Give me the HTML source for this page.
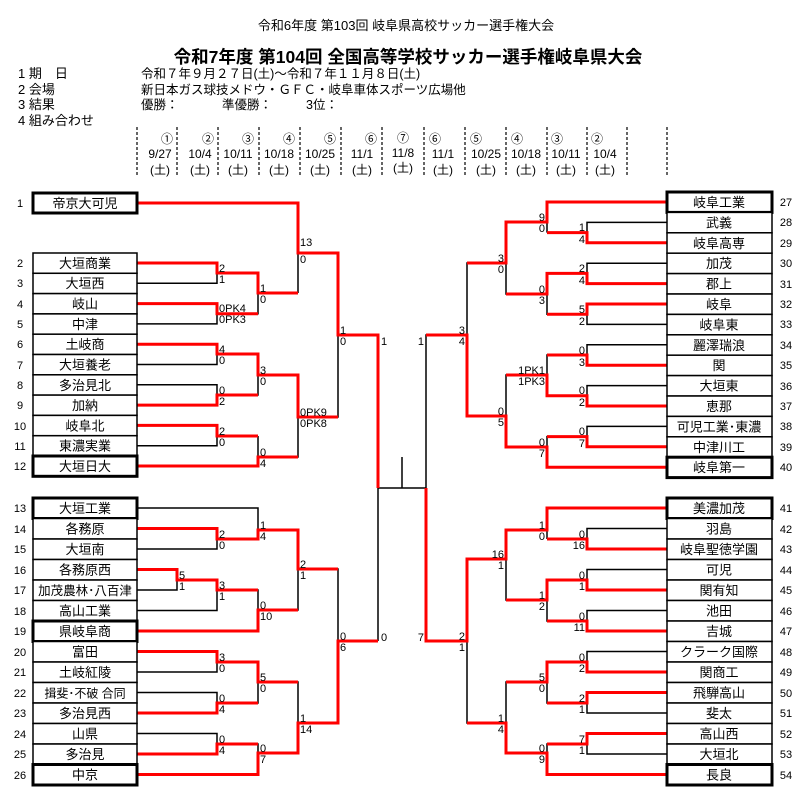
<!DOCTYPE html>
<html><head><meta charset="utf-8"><style>
html,body{margin:0;padding:0;background:#fff;}
svg{display:block;font-family:"Liberation Sans","Noto Sans CJK JP",sans-serif;}
.n{font-size:13px;text-anchor:middle;}
.s{font-size:11px;}
.e{text-anchor:end;}
.b{fill:none;stroke:#000;stroke-width:1.5;}
.r{fill:none;stroke:#f00;stroke-width:3;}
.bx{fill:#fff;stroke:#000;stroke-width:1.5;}
.tb{fill:#fff;stroke:#000;stroke-width:3;}
.h{font-size:13px;}
</style></head><body>
<svg width="809" height="803" viewBox="0 0 809 803" xmlns="http://www.w3.org/2000/svg">
<text x="406" y="30" font-size="13" text-anchor="middle">令和6年度  第103回  岐阜県高校サッカー選手権大会</text>
<text x="408" y="63" font-size="17.5" font-weight="bold" text-anchor="middle">令和7年度 第104回 全国高等学校サッカー選手権岐阜県大会</text>
<g class="h">
<text x="18" y="78">1 期　日</text><text x="141" y="78" font-size="12.5">令和７年９月２７日(土)～令和７年１１月８日(土)</text>
<text x="18" y="94">2 会場</text><text x="141" y="94" font-size="12.5">新日本ガス球技メドウ・ＧＦＣ・岐阜車体スポーツ広場他</text>
<text x="18" y="109">3 結果</text><text x="141" y="109" font-size="12.5">優勝：</text><text x="222" y="109" font-size="12.5">準優勝：</text><text x="306" y="109" font-size="12.5">3位：</text>
<text x="18" y="125">4 組み合わせ</text>
</g>
<g stroke="#000" stroke-width="1.2" stroke-dasharray="3,2">
<line x1="137" y1="127" x2="137" y2="176"/><line x1="177" y1="127" x2="177" y2="176"/><line x1="218" y1="127" x2="218" y2="176"/><line x1="259" y1="127" x2="259" y2="176"/><line x1="300" y1="127" x2="300" y2="176"/><line x1="341" y1="127" x2="341" y2="176"/><line x1="382" y1="127" x2="382" y2="176"/><line x1="424" y1="127" x2="424" y2="176"/><line x1="465" y1="127" x2="465" y2="176"/><line x1="506" y1="127" x2="506" y2="176"/><line x1="547" y1="127" x2="547" y2="176"/><line x1="587" y1="127" x2="587" y2="176"/><line x1="627" y1="127" x2="627" y2="176"/><line x1="667" y1="127" x2="667" y2="176"/>
</g>
<g font-size="12" text-anchor="middle">
<text x="167" y="143">①</text><text x="160" y="158">9/27</text><text x="160" y="174">(土)</text>
<text x="208" y="143">②</text><text x="200" y="158">10/4</text><text x="200" y="174">(土)</text>
<text x="248" y="143">③</text><text x="238" y="158">10/11</text><text x="238" y="174">(土)</text>
<text x="289" y="143">④</text><text x="279" y="158">10/18</text><text x="279" y="174">(土)</text>
<text x="330" y="143">⑤</text><text x="320" y="158">10/25</text><text x="320" y="174">(土)</text>
<text x="371" y="143">⑥</text><text x="362" y="158">11/1</text><text x="362" y="174">(土)</text>
<text x="403" y="142">⑦</text><text x="403" y="157">11/8</text><text x="403" y="172">(土)</text>
<text x="435" y="143">⑥</text><text x="443" y="158">11/1</text><text x="443" y="174">(土)</text>
<text x="476" y="143">⑤</text><text x="486" y="158">10/25</text><text x="486" y="174">(土)</text>
<text x="517" y="143">④</text><text x="526" y="158">10/18</text><text x="526" y="174">(土)</text>
<text x="557" y="143">③</text><text x="566" y="158">10/11</text><text x="566" y="174">(土)</text>
<text x="597" y="143">②</text><text x="605" y="158">10/4</text><text x="605" y="174">(土)</text>
</g>

<path class="b" d="M137 203H298V293 M137 263H217V283.3H137 M137 303.6H217V323.9H137 M137 344.2H217V364.5H137 M137 384.8H217V405.1H137 M137 425.4H217V445.7H137 M137 466H258V436 M217 273H258V313.8H217 M217 354H258V395H217 M217 436H258 M258 293H298 M258 375H298V457H258 M298 253H338V417H298 M338 335H378V641"/>
<path class="b" d="M137 508H258V539 M137 528.5H217V549H137 M137 569.5H177V590H137 M177 580H217V610.5H137 M137 631H258V590H217 M217 539H258 M258 530H298V610H258 M137 651.5H217V672H137 M137 692.5H217V713H137 M217 662H258V703H217 M137 733.5H217V754H137 M217 744H258V774.5H137 M258 682H298V753H258 M298 569H338V723H298 M338 641H378"/>
<path class="b" d="M378 488H426 M402 457V488"/>
<path class="b" d="M667 202H547V232.6 M667 222.4H587V242.8H667 M667 263.2H587V283.6H667 M667 304H587V324.4H667 M587 232.6H547 M587 273.4H547V314.2H587 M547 222H506V294H547 M506 263H467V416H506 M467 335H426V641 M667 344.8H587V365.2H667 M667 385.6H587V406H667 M587 355H547V395.8H587 M547 375H506V447H547 M667 426.4H587V446.8H667 M587 436.6H547V467.2H667"/>
<path class="b" d="M667 508H547V539 M667 528.5H587V549H667 M587 539H547 M667 569.5H587V590H667 M667 610.5H587V631H667 M587 580H547V621H587 M547 530H506V600H547 M506 559H467V723H506 M667 651.5H587V672H667 M667 692.5H587V713H667 M587 662H547V703H587 M547 682H506V753H547 M667 733.5H587V754H667 M587 744H547V774.5H667"/>

<g class="r">
<path d="M137 203H298V253H338V335H378V488"/>
<path d="M137 263H217V273H258V293H298"/>
<path d="M137 303.6H217V313.8H258"/>
<path d="M137 344.2H217V354H258V375H298V417H338"/>
<path d="M137 405.1H217V395H258"/>
<path d="M137 425.4H217V436H258"/>
<path d="M137 466H258V457H298"/>
<path d="M137 528.5H217V539H258V530H298V569H338"/>
<path d="M137 569.5H177V580H217V590H258"/>
<path d="M137 631H258V610H298"/>
<path d="M137 651.5H217V662H258V682H298"/>
<path d="M137 713H217V703H258"/>
<path d="M137 754H217V744H258"/>
<path d="M137 774.5H258V753H298V723H338V641H378"/>
<path d="M667 202H547V222H506V263H467"/>
<path d="M667 242.8H587V232.6H547"/>
<path d="M667 283.6H587V273.4H547V294H506"/>
<path d="M667 304H587V314.2H547"/>
<path d="M667 365.2H587V355H547"/>
<path d="M667 406H587V395.8H547V375H506"/>
<path d="M667 446.8H587V436.6H547"/>
<path d="M667 467.2H547V447H506V416H467V335H426"/>
<path d="M667 508H547V530H506V559H467V641H426V488"/>
<path d="M667 549H587V539H547"/>
<path d="M667 590H587V580H547V600H506"/>
<path d="M667 631H587V621H547"/>
<path d="M667 672H587V662H547V682H506"/>
<path d="M667 692.5H587V703H547"/>
<path d="M667 733.5H587V744H547"/>
<path d="M667 774.5H547V753H506V723H467"/>
</g>

<g>
<rect class="tb" x="33" y="193" width="104" height="20"/>
<rect class="bx" x="33" y="253" width="104" height="20.3"/><rect class="bx" x="33" y="273.3" width="104" height="20.3"/><rect class="bx" x="33" y="293.6" width="104" height="20.3"/><rect class="bx" x="33" y="313.9" width="104" height="20.3"/><rect class="bx" x="33" y="334.2" width="104" height="20.3"/><rect class="bx" x="33" y="354.5" width="104" height="20.3"/><rect class="bx" x="33" y="374.8" width="104" height="20.3"/><rect class="bx" x="33" y="395.1" width="104" height="20.3"/><rect class="bx" x="33" y="415.4" width="104" height="20.3"/><rect class="bx" x="33" y="435.7" width="104" height="20.3"/><rect class="tb" x="33" y="456" width="104" height="20.3"/>
<rect class="tb" x="33" y="498" width="104" height="20.5"/><rect class="bx" x="33" y="518.5" width="104" height="20.5"/><rect class="bx" x="33" y="539" width="104" height="20.5"/><rect class="bx" x="33" y="559.5" width="104" height="20.5"/><rect class="bx" x="33" y="580" width="104" height="20.5"/><rect class="bx" x="33" y="600.5" width="104" height="20.5"/><rect class="tb" x="33" y="621" width="104" height="20.5"/><rect class="bx" x="33" y="641.5" width="104" height="20.5"/><rect class="bx" x="33" y="662" width="104" height="20.5"/><rect class="bx" x="33" y="682.5" width="104" height="20.5"/><rect class="bx" x="33" y="703" width="104" height="20.5"/><rect class="bx" x="33" y="723.5" width="104" height="20.5"/><rect class="bx" x="33" y="744" width="104" height="20.5"/><rect class="tb" x="33" y="764.5" width="104" height="20.5"/>
</g>
<g>
<rect class="tb" x="667" y="192" width="105" height="20.4"/><rect class="bx" x="667" y="212.4" width="105" height="20.4"/><rect class="bx" x="667" y="232.8" width="105" height="20.4"/><rect class="bx" x="667" y="253.2" width="105" height="20.4"/><rect class="bx" x="667" y="273.6" width="105" height="20.4"/><rect class="bx" x="667" y="294" width="105" height="20.4"/><rect class="bx" x="667" y="314.4" width="105" height="20.4"/><rect class="bx" x="667" y="334.8" width="105" height="20.4"/><rect class="bx" x="667" y="355.2" width="105" height="20.4"/><rect class="bx" x="667" y="375.6" width="105" height="20.4"/><rect class="bx" x="667" y="396" width="105" height="20.4"/><rect class="bx" x="667" y="416.4" width="105" height="20.4"/><rect class="bx" x="667" y="436.8" width="105" height="20.4"/><rect class="tb" x="667" y="457.2" width="105" height="20.4"/>
<rect class="tb" x="667" y="498" width="105" height="20.5"/><rect class="bx" x="667" y="518.5" width="105" height="20.5"/><rect class="bx" x="667" y="539" width="105" height="20.5"/><rect class="bx" x="667" y="559.5" width="105" height="20.5"/><rect class="bx" x="667" y="580" width="105" height="20.5"/><rect class="bx" x="667" y="600.5" width="105" height="20.5"/><rect class="bx" x="667" y="621" width="105" height="20.5"/><rect class="bx" x="667" y="641.5" width="105" height="20.5"/><rect class="bx" x="667" y="662" width="105" height="20.5"/><rect class="bx" x="667" y="682.5" width="105" height="20.5"/><rect class="bx" x="667" y="703" width="105" height="20.5"/><rect class="bx" x="667" y="723.5" width="105" height="20.5"/><rect class="bx" x="667" y="744" width="105" height="20.5"/><rect class="tb" x="667" y="764.5" width="105" height="20.5"/>
</g>

<g class="n">
<text x="85" y="208">帝京大可児</text>
<text x="85" y="268">大垣商業</text><text x="85" y="288">大垣西</text><text x="85" y="308.5">岐山</text><text x="85" y="329">中津</text><text x="85" y="349">土岐商</text><text x="85" y="369.5">大垣養老</text><text x="85" y="390">多治見北</text><text x="85" y="410">加納</text><text x="85" y="430.5">岐阜北</text><text x="85" y="450.5">東濃実業</text><text x="85" y="471">大垣日大</text>
<text x="85" y="513">大垣工業</text><text x="85" y="533.5">各務原</text><text x="85" y="554">大垣南</text><text x="85" y="574.5">各務原西</text><text x="85" y="595" font-size="12.5">加茂農林･八百津</text><text x="85" y="615.5">高山工業</text><text x="85" y="636">県岐阜商</text><text x="85" y="656.5">富田</text><text x="85" y="677">土岐紅陵</text><text x="85" y="697.5" font-size="12">揖斐･不破  合同</text><text x="85" y="718">多治見西</text><text x="85" y="738.5">山県</text><text x="85" y="759">多治見</text><text x="85" y="779.5">中京</text>
</g>
<g class="n">
<text x="719" y="207">岐阜工業</text><text x="719" y="227.5">武義</text><text x="719" y="248">岐阜高専</text><text x="719" y="268">加茂</text><text x="719" y="288.5">郡上</text><text x="719" y="309">岐阜</text><text x="719" y="329.5">岐阜東</text><text x="719" y="350">麗澤瑞浪</text><text x="719" y="370">関</text><text x="719" y="390.5">大垣東</text><text x="719" y="411">恵那</text><text x="719" y="431.5">可児工業･東濃</text><text x="719" y="452">中津川工</text><text x="719" y="472">岐阜第一</text>
<text x="719" y="513">美濃加茂</text><text x="719" y="533.5">羽島</text><text x="719" y="554">岐阜聖徳学園</text><text x="719" y="574.5">可児</text><text x="719" y="595">関有知</text><text x="719" y="615.5">池田</text><text x="719" y="636">吉城</text><text x="719" y="656.5">クラーク国際</text><text x="719" y="677">関商工</text><text x="719" y="697.5">飛騨高山</text><text x="719" y="718">斐太</text><text x="719" y="738.5">高山西</text><text x="719" y="759">大垣北</text><text x="719" y="779.5">長良</text>
</g>
<g class="s" text-anchor="middle">
<text x="20" y="207">1</text>
<text x="20" y="267">2</text><text x="20" y="287">3</text><text x="20" y="308">4</text><text x="20" y="328">5</text><text x="20" y="348">6</text><text x="20" y="369">7</text><text x="20" y="389">8</text><text x="20" y="409">9</text><text x="20" y="430">10</text><text x="20" y="450">11</text><text x="20" y="470">12</text>
<text x="20" y="512">13</text><text x="20" y="533">14</text><text x="20" y="553">15</text><text x="20" y="574">16</text><text x="20" y="594">17</text><text x="20" y="615">18</text><text x="20" y="635">19</text><text x="20" y="656">20</text><text x="20" y="676">21</text><text x="20" y="697">22</text><text x="20" y="717">23</text><text x="20" y="738">24</text><text x="20" y="758">25</text><text x="20" y="779">26</text>
<text x="786" y="206">27</text><text x="786" y="226">28</text><text x="786" y="247">29</text><text x="786" y="267">30</text><text x="786" y="288">31</text><text x="786" y="308">32</text><text x="786" y="328">33</text><text x="786" y="349">34</text><text x="786" y="369">35</text><text x="786" y="390">36</text><text x="786" y="410">37</text><text x="786" y="430">38</text><text x="786" y="451">39</text><text x="786" y="471">40</text>
<text x="786" y="512">41</text><text x="786" y="533">42</text><text x="786" y="553">43</text><text x="786" y="574">44</text><text x="786" y="594">45</text><text x="786" y="615">46</text><text x="786" y="635">47</text><text x="786" y="656">48</text><text x="786" y="676">49</text><text x="786" y="697">50</text><text x="786" y="717">51</text><text x="786" y="738">52</text><text x="786" y="758">53</text><text x="786" y="779">54</text>
</g>
<g class="s">
<text x="219" y="272">2</text><text x="219" y="283">1</text>
<text x="219" y="312">0PK4</text><text x="219" y="323">0PK3</text>
<text x="219" y="353">4</text><text x="219" y="364">0</text>
<text x="219" y="394">0</text><text x="219" y="405">2</text>
<text x="219" y="435">2</text><text x="219" y="446">0</text>
<text x="260" y="292">1</text><text x="260" y="303">0</text>
<text x="260" y="374">3</text><text x="260" y="385">0</text>
<text x="260" y="456">0</text><text x="260" y="467">4</text>
<text x="300" y="246">13</text><text x="300" y="263">0</text>
<text x="300" y="416">0PK9</text><text x="300" y="427">0PK8</text>
<text x="340" y="334">1</text><text x="340" y="345">0</text>
<text x="381" y="345">1</text>
<text x="179" y="579">5</text><text x="179" y="590">1</text>
<text x="219" y="538">2</text><text x="219" y="549">0</text>
<text x="219" y="589">3</text><text x="219" y="600">1</text>
<text x="219" y="661">3</text><text x="219" y="672">0</text>
<text x="219" y="702">0</text><text x="219" y="713">4</text>
<text x="219" y="743">0</text><text x="219" y="754">4</text>
<text x="260" y="529">1</text><text x="260" y="540">4</text>
<text x="260" y="609">0</text><text x="260" y="620">10</text>
<text x="260" y="681">5</text><text x="260" y="692">0</text>
<text x="260" y="752">0</text><text x="260" y="763">7</text>
<text x="300" y="568">2</text><text x="300" y="579">1</text>
<text x="300" y="722">1</text><text x="300" y="733">14</text>
<text x="340" y="640">0</text><text x="340" y="651">6</text>
<text x="381" y="641">0</text>
</g>
<g class="s e">
<text x="545" y="221">9</text><text x="545" y="232">0</text>
<text x="585" y="231">1</text><text x="585" y="243">4</text>
<text x="585" y="272">2</text><text x="585" y="284">4</text>
<text x="585" y="313">5</text><text x="585" y="325">2</text>
<text x="545" y="293">0</text><text x="545" y="304">3</text>
<text x="504" y="262">3</text><text x="504" y="273">0</text>
<text x="585" y="354">0</text><text x="585" y="366">3</text>
<text x="585" y="394">0</text><text x="585" y="406">2</text>
<text x="545" y="374">1PK1</text><text x="545" y="385">1PK3</text>
<text x="585" y="435">0</text><text x="585" y="447">7</text>
<text x="545" y="446">0</text><text x="545" y="457">7</text>
<text x="504" y="415">0</text><text x="504" y="426">5</text>
<text x="465" y="334">3</text><text x="465" y="345">4</text>
<text x="424" y="345">1</text>
<text x="545" y="529">1</text><text x="545" y="540">0</text>
<text x="585" y="538">0</text><text x="585" y="549">16</text>
<text x="585" y="579">0</text><text x="585" y="590">1</text>
<text x="585" y="620">0</text><text x="585" y="631">11</text>
<text x="545" y="599">1</text><text x="545" y="610">2</text>
<text x="504" y="558">16</text><text x="504" y="569">1</text>
<text x="585" y="661">0</text><text x="585" y="672">2</text>
<text x="585" y="702">2</text><text x="585" y="713">1</text>
<text x="545" y="681">5</text><text x="545" y="692">0</text>
<text x="585" y="743">7</text><text x="585" y="754">1</text>
<text x="545" y="752">0</text><text x="545" y="763">9</text>
<text x="504" y="722">1</text><text x="504" y="733">4</text>
<text x="465" y="640">2</text><text x="465" y="651">1</text>
<text x="424" y="641">7</text>
</g>
</svg>
</body></html>
